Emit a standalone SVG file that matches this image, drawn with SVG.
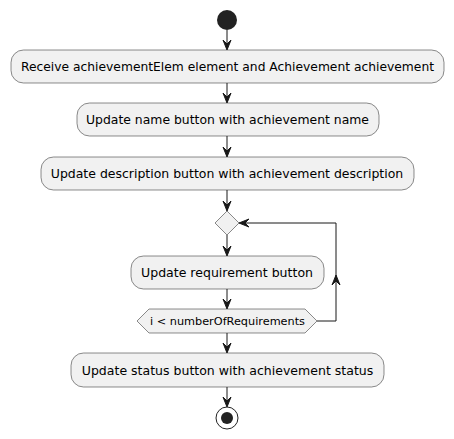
<svg xmlns="http://www.w3.org/2000/svg" width="454" height="439" viewBox="0 0 454 439">
<style>
.box{fill:#F1F1F1;stroke:#181818;stroke-width:0.5}
.t{font-family:"DejaVu Sans",sans-serif;font-size:12.3px;fill:#000;text-anchor:middle}
.ts{font-family:"DejaVu Sans",sans-serif;font-size:11px;fill:#000;text-anchor:middle}
.ln{fill:none;stroke:#181818;stroke-width:1}
.ah{fill:#181818;stroke:#181818;stroke-width:1}
</style>
<rect width="454" height="439" fill="#FFFFFF"/>
<g id="start"><circle cx="227" cy="20" r="10" fill="#222222"/></g>
<g id="n1"><rect class="box" x="11" y="50" width="433" height="33" rx="12.5"/><text class="t" x="227.5" y="71" textLength="413" lengthAdjust="spacingAndGlyphs">Receive achievementElem element and Achievement achievement</text></g>
<g id="n2"><rect class="box" x="77" y="103" width="302" height="33" rx="12.5"/><text class="t" x="227.5" y="124" textLength="283" lengthAdjust="spacingAndGlyphs">Update name button with achievement name</text></g>
<g id="n3"><rect class="box" x="41" y="157" width="373" height="33" rx="12.5"/><text class="t" x="227" y="178" textLength="352.5" lengthAdjust="spacingAndGlyphs">Update description button with achievement description</text></g>
<g id="merge"><polygon class="box" points="227,211 239,223 227,235 215,223"/></g>
<g id="n4"><rect class="box" x="131" y="256" width="193" height="33" rx="12.5"/><text class="t" x="227" y="277" textLength="172" lengthAdjust="spacingAndGlyphs">Update requirement button</text></g>
<g id="cond"><polygon class="box" points="137,321 149,309 305,309 317,321 305,333 149,333"/><text class="ts" x="227.5" y="325" textLength="155" lengthAdjust="spacingAndGlyphs">i &lt; numberOfRequirements</text></g>
<g id="n5"><rect class="box" x="71" y="353" width="313" height="34" rx="12.5"/><text class="t" x="227.5" y="374.5" textLength="291.5" lengthAdjust="spacingAndGlyphs">Update status button with achievement status</text></g>
<g id="end"><circle cx="227" cy="418" r="11" fill="none" stroke="#222222" stroke-width="1"/><circle cx="227" cy="418" r="6" fill="#222222"/></g>
<g id="connectors">
<line class="ln" x1="227" y1="30" x2="227" y2="48"/><polygon class="ah" points="223,40 227,50 231,40 227,44"/>
<line class="ln" x1="227" y1="83" x2="227" y2="101"/><polygon class="ah" points="223,93 227,103 231,93 227,97"/>
<line class="ln" x1="227" y1="136" x2="227" y2="155"/><polygon class="ah" points="223,147 227,157 231,147 227,151"/>
<line class="ln" x1="227" y1="190" x2="227" y2="209"/><polygon class="ah" points="223,201 227,211 231,201 227,205"/>
<line class="ln" x1="227" y1="235" x2="227" y2="254"/><polygon class="ah" points="223,246 227,256 231,246 227,250"/>
<line class="ln" x1="227" y1="289" x2="227" y2="307"/><polygon class="ah" points="223,299 227,309 231,299 227,303"/>
<line class="ln" x1="227" y1="333" x2="227" y2="351"/><polygon class="ah" points="223,343 227,353 231,343 227,347"/>
<line class="ln" x1="227" y1="387" x2="227" y2="405"/><polygon class="ah" points="223,397 227,407 231,397 227,401"/>
<polyline class="ln" points="317,321 336,321 336,223 241,223"/>
<polygon class="ah" points="332,285 336,275 340,285 336,281"/>
<polygon class="ah" points="249,219 239,223 249,227 245,223"/>
</g>
</svg>
